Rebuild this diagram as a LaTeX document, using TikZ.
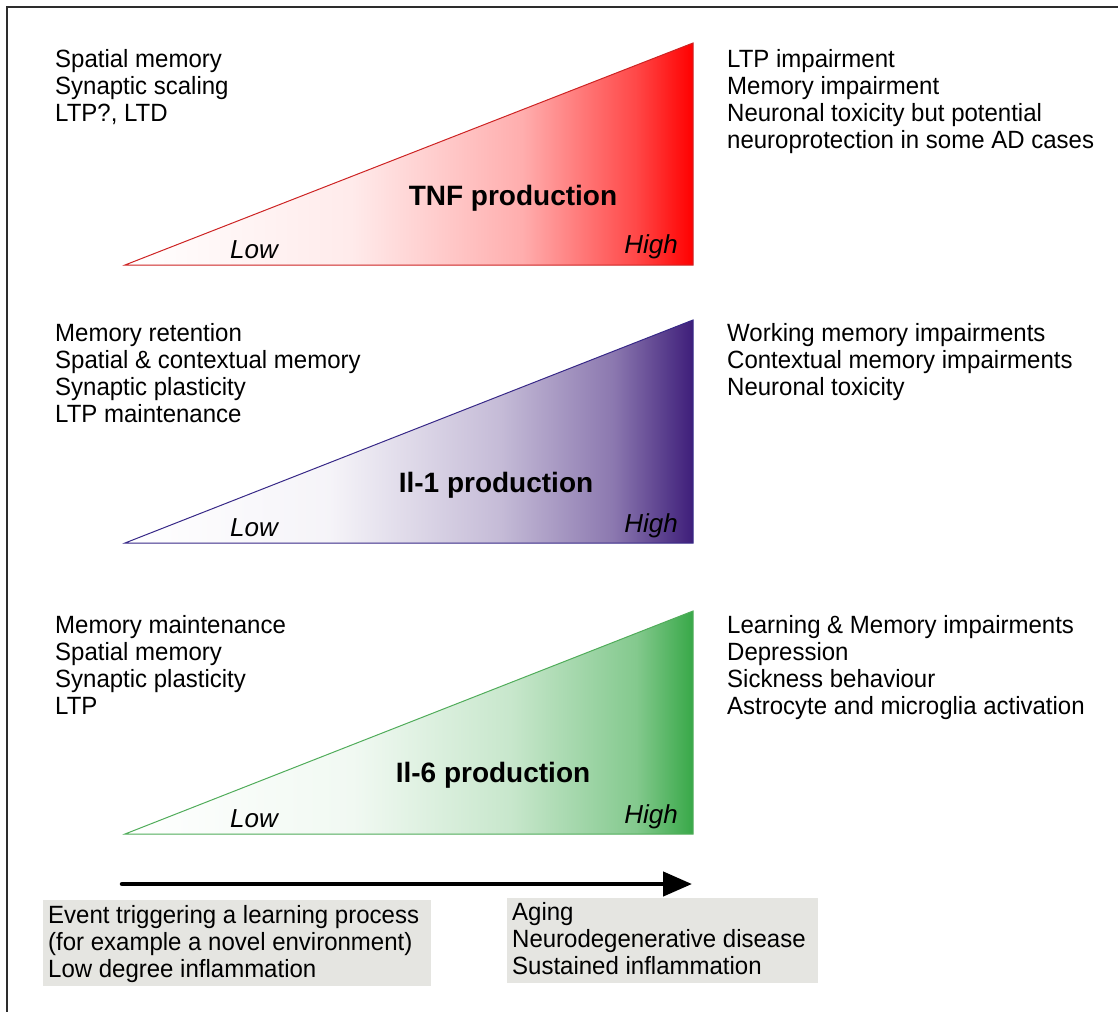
\documentclass[tikz,border=0pt]{standalone}
\usepackage{fontspec}
\setmainfont{Liberation Sans}
\usepackage{graphicx}
\usetikzlibrary{arrows.meta}
\definecolor{tnfred}{RGB}{255,0,0}
\definecolor{tnfline}{RGB}{205,35,35}
\definecolor{ilpurple}{RGB}{62,30,122}
\definecolor{ilpline}{RGB}{55,40,135}
\definecolor{ilgreen}{RGB}{56,168,72}
\definecolor{ilgline}{RGB}{80,172,90}
\definecolor{boxgray}{RGB}{229,229,225}
\definecolor{framegray}{RGB}{45,45,45}
\pgfdeclarehorizontalshading{tnfshade}{100bp}{color(0bp)=(white); color(25bp)=(white); color(45bp)=(tnfred!8); color(60bp)=(tnfred!32); color(70bp)=(tnfred!72); color(75bp)=(tnfred); color(100bp)=(tnfred)}
\pgfdeclarehorizontalshading{ilpshade}{100bp}{color(0bp)=(white); color(25bp)=(white); color(43bp)=(ilpurple!5); color(58bp)=(ilpurple!30); color(68bp)=(ilpurple!60); color(75bp)=(ilpurple); color(100bp)=(ilpurple)}
\pgfdeclarehorizontalshading{ilgshade}{100bp}{color(0bp)=(white); color(25bp)=(white); color(45bp)=(ilgreen!7); color(59bp)=(ilgreen!28); color(70bp)=(ilgreen!62); color(75bp)=(ilgreen); color(100bp)=(ilgreen)}
\newcommand\mlines[1]{\scalebox{1}[1.04]{\begin{tabular}{@{}l@{}}#1\end{tabular}}}
\begin{document}
\begin{tikzpicture}[x=1pt,y=1pt,
  lst/.style={anchor=north west, inner sep=0pt, font=\fontsize{24}{26}\selectfont},
  big/.style={anchor=base, inner sep=0pt, font=\fontsize{28}{32}\selectfont\bfseries},
  lh/.style={inner sep=0pt, font=\fontsize{26}{30}\selectfont\itshape},
  tri/.style={line width=1pt},
  gbox/.style={fill=boxgray},
  frame/.style={draw=framegray, line width=2pt}]
\useasboundingbox (0,0) rectangle (1118,-1012);
% frame (top and left visible)
\draw[frame] (1118,-7) -- (7,-7) -- (7,-1012);
% triangles
\path[tri, draw=tnfline, shading=tnfshade] (125,-265) -- (693,-43) -- (693,-265) -- cycle;
\path[tri, draw=ilpline, shading=ilpshade] (125,-543) -- (693,-320) -- (693,-543) -- cycle;
\path[tri, draw=ilgline, shading=ilgshade] (125,-834) -- (693,-611) -- (693,-834) -- cycle;
% TNF
\node[lst] (tnfL) at (55,-48.1) {\mlines{Spatial memory\\Synaptic scaling\\LTP?, LTD}};
\node[lst] (tnfR) at (727,-48.1) {\mlines{LTP impairment\\Memory impairment\\Neuronal toxicity but potential\\neuroprotection in some AD cases}};
\node[big] (tnf) at (513,-205) {TNF production};
\node[lh, anchor=base] (tnflow) at (254,-258) {Low};
\node[lh, anchor=base east] (tnfhigh) at (678,-253) {High};
% Il-1
\node[lst] (il1L) at (55,-322.1) {\mlines{Memory retention\\Spatial \& contextual memory\\Synaptic plasticity\\LTP maintenance}};
\node[lst] (il1R) at (727,-322.1) {\mlines{Working memory impairments\\Contextual memory impairments\\Neuronal toxicity}};
\node[big] (il1) at (496,-492) {Il-1 production};
\node[lh, anchor=base] (il1low) at (254,-536) {Low};
\node[lh, anchor=base east] (il1high) at (678,-532) {High};
% Il-6
\node[lst] (il6L) at (55,-614.1) {\mlines{Memory maintenance\\Spatial memory\\Synaptic plasticity\\LTP}};
\node[lst] (il6R) at (727,-614.1) {\mlines{Learning \& Memory impairments\\Depression\\Sickness behaviour\\Astrocyte and microglia activation}};
\node[big] (il6) at (493,-782) {Il-6 production};
\node[lh, anchor=base] (il6low) at (254,-827) {Low};
\node[lh, anchor=base east] (il6high) at (678,-823) {High};
% time arrow
\coordinate (a0) at (122,-884);
\coordinate (a1) at (692,-884);
\draw[line width=4.5pt, line cap=round, -{Triangle[length=29pt,width=24pt]}] (a0) -- (a1);
% bottom boxes
\fill[gbox] (43,-900) rectangle (431,-986);
\fill[gbox] (507,-898) rectangle (818,-983);
\node[lst] (early) at (48,-904.1) {\mlines{Event triggering a learning process\\(for example a novel environment)\\Low degree inflammation}};
\node[lst] (late) at (512,-901.1) {\mlines{Aging\\Neurodegenerative disease\\Sustained inflammation}};
\end{tikzpicture}
\end{document}
